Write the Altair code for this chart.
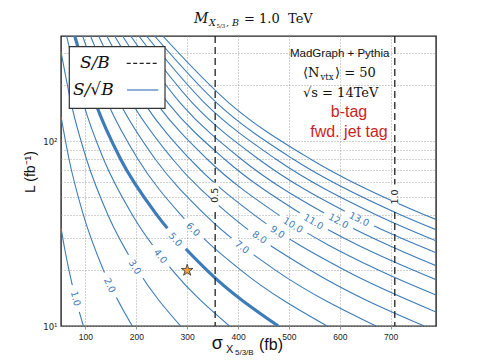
import altair as alt
import pandas as pd

# ---------------- data ----------------
# S/sqrt(B) contour levels and points: sigma (fb), L (fb^-1)
contour_levels = [1.0, 2.0, 3.0, 4.0, 5.0, 6.0, 7.0, 8.0, 9.0, 10.0, 11.0, 12.0, 13.0, 14.0, 15.0, 16.0]
contour_sigma = [
    [96, 81, 67.7, 59.4, 52],
    [192, 135.5, 95.8, 67.7, 52],
    [287, 203, 144, 102, 72, 52],
    [383, 271, 192, 135.5, 96, 63],
    [479, 339, 240, 169, 120, 79],
    [575, 406, 287, 203, 144, 94.5],
    [671, 474, 335, 237, 168, 110],
    [766, 542, 383, 271, 192, 126],
    [789, 610, 431, 305, 216, 142],
    [789, 677, 479, 339, 240, 157.5],
    [789, 745, 527, 373, 263, 173],
    [789, 700, 575, 406, 287, 189],
    [789, 700, 623, 440, 311, 205],
    [789, 671, 474, 335, 220],
    [789, 719, 508, 359, 236],
    [789, 766, 542, 383, 252],
]
contour_lumi = [
    [10, 14, 20, 26, 33.9],
    [10, 20, 40, 80, 136],
    [10, 20, 40, 80, 160, 305],
    [10, 20, 40, 80, 160, 370],
    [10, 20, 40, 80, 160, 370],
    [10, 20, 40, 80, 160, 370],
    [10, 20, 40, 80, 160, 370],
    [10, 20, 40, 80, 160, 370],
    [11.9, 20, 40, 80, 160, 370],
    [14.7, 20, 40, 80, 160, 370],
    [17.8, 20, 40, 80, 160, 370],
    [21.2, 27, 40, 80, 160, 370],
    [24.9, 31.6, 40, 80, 160, 370],
    [28.9, 40, 80, 160, 370],
    [33.2, 40, 80, 160, 370],
    [37.7, 40, 80, 160, 370],
]
highlight_level = 5.0

# inline contour labels
label_text = ["1.0", "2.0", "3.0", "4.0", "5.0", "6.0", "7.0", "8.0", "9.0", "10.0", "11.0", "12.0", "13.0"]
label_sigma = [80.4, 147.7, 196.8, 247.2, 276.6, 311.4, 407.6, 442.1, 477.4, 507.7, 548.1, 597.2, 637.8]
label_lumi = [14.06, 16.6, 20.8, 23.8, 29.3, 33.2, 26.7, 30.1, 32.2, 35.0, 36.5, 36.9, 37.7]
label_rotation = [75.7, 64.9, 58.0, 51.9, 48.7, 45.4, 37.7, 35.5, 33.5, 31.8, 29.9, 27.8, 26.3]

# S/B dashed lines
sb_text = ["0.5", "1.0"]
sb_sigma = [355, 708]
sb_label_lumi = [50.9, 49.8]

# benchmark point
star_sigma = [300]
star_lumi = [20]

x_ticks = [100, 200, 300, 400, 500, 600, 700]
y_ticks = [10, 20, 30, 40, 50, 60, 70, 80, 90, 100, 200, 300]

# ---------------- styling ----------------
BLUE = "#3d7cb9"
RECT = "M-1,-0.28L1,-0.28L1,0.28L-1,0.28Z"
STAR = ("M0,-1L0.223,-0.307L0.951,-0.309L0.361,0.117L0.588,0.809L0,0.38"
        "L-0.588,0.809L-0.361,0.117L-0.951,-0.309L-0.223,-0.307Z")
SERIF = "DejaVu Serif"
SANS = "Liberation Sans"

rows = []
for lev, ss, ls in zip(contour_levels, contour_sigma, contour_lumi):
    for s, l in zip(ss, ls):
        rows.append({"level": lev, "sigma": s, "L": l})
df_c = pd.DataFrame(rows)

df_lab = pd.DataFrame({"text": label_text, "sigma": label_sigma, "L": label_lumi,
                       "angle": label_rotation})
df_lab["msize"] = [(12 + 5.2 * len(t)) ** 2 for t in label_text]

df_sb = pd.DataFrame({"text": sb_text, "sigma": sb_sigma, "L": sb_label_lumi})
df_star = pd.DataFrame({"sigma": star_sigma, "L": star_lumi})

xs = alt.Scale(domain=[52, 789], nice=False, zero=False)
ys = alt.Scale(type="log", domain=[10, 370], nice=False)

x_axis = alt.Axis(values=x_ticks, title=None, grid=True, gridDash=[1, 2], gridColor="#9a9a9a",
                  gridWidth=0.9, domain=False, ticks=True, tickSize=3, tickColor="#999",
                  labelFont=SANS, labelFontSize=8.5, labelColor="#222", labelPadding=3)
y_axis = alt.Axis(values=y_ticks, title=None, grid=True, gridDash=[1, 2], gridColor="#9a9a9a",
                  gridWidth=0.9, domain=False, ticks=False,
                  labelExpr="datum.value == 10 ? '10\u00b9' : (datum.value == 100 ? '10\u00b2' : '')",
                  labelFont="DejaVu Sans", labelFontSize=8.5, labelColor="#222", labelPadding=4)

X = alt.X("sigma:Q", scale=xs, axis=x_axis)
Y = alt.Y("L:Q", scale=ys, axis=y_axis)

contours = alt.Chart(df_c).mark_line(clip=True, interpolate="monotone", color=BLUE).encode(
    x=X, y=Y, detail="level:N",
    strokeWidth=alt.condition(f"datum.level == {highlight_level}", alt.value(3.2), alt.value(1.1)),
)

masks = alt.Chart(df_lab).mark_point(shape=RECT, filled=True, color="white", opacity=1,
                                     strokeWidth=0, clip=True).encode(
    x=X, y=Y, angle=alt.Angle("angle:Q", scale=None), size=alt.Size("msize:Q", scale=None))

labels = alt.Chart(df_lab).mark_text(font="DejaVu Sans", fontSize=9.5, color=BLUE).encode(
    x=X, y=Y, text="text:N", angle=alt.Angle("angle:Q", scale=None))

sb_lines = alt.Chart(df_sb).mark_rule(strokeDash=[7, 4], color="#222", strokeWidth=1.3).encode(
    x=alt.X("sigma:Q", scale=xs))
sb_masks = alt.Chart(df_sb).mark_point(shape=RECT, filled=True, color="white", opacity=1,
                                       strokeWidth=0, size=640, angle=90).encode(x=X, y=Y)
sb_labels = alt.Chart(df_sb).mark_text(font="DejaVu Sans", fontSize=9.5, color="#222",
                                       angle=270).encode(x=X, y=Y, text="text:N")

star = alt.Chart(df_star).mark_point(shape=STAR, filled=True, fill="#f5a03e", stroke="#333",
                                     strokeWidth=0.8, opacity=1, size=150).encode(x=X, y=Y)

one = pd.DataFrame({"a": [0]})

legend_box = alt.Chart(one).mark_rect(fill="white", stroke="#333", strokeWidth=1.2).encode(
    x=alt.value(8.3), x2=alt.value(104), y=alt.value(10.7), y2=alt.value(72.3))
legend_dash = alt.Chart(one).mark_rule(strokeDash=[4, 2.5], color="#222", strokeWidth=1.2).encode(
    x=alt.value(65.7), x2=alt.value(97.3), y=alt.value(27.3))
legend_solid = alt.Chart(one).mark_rule(color=BLUE, strokeWidth=1.2).encode(
    x=alt.value(66), x2=alt.value(97.3), y=alt.value(54))


def txt(t, x, y, size, font=SERIF, style="normal", color="#111", align="left",
        baseline="alphabetic", angle=0, weight="normal"):
    return alt.Chart(pd.DataFrame({"t": [t]})).mark_text(
        font=font, fontSize=size, fontStyle=style, color=color, align=align,
        baseline=baseline, angle=angle, fontWeight=weight).encode(
        x=alt.value(x), y=alt.value(y), text="t:N")


legend_txt = [
    txt("S/B", 19, 32, 17, style="italic"),
    txt("S/\u221aB", 12, 59, 17, style="italic"),
]

notes = [
    txt("MadGraph + Pythia", 278.7, 18, 11.5, font=SANS, align="center", baseline="middle"),
    txt("\u27e8N", 242, 40.7, 13),
    txt("vtx", 259.5, 44, 8.5),
    txt("\u27e9 = 50", 274, 40.7, 13),
    txt("\u221as = 14TeV", 242, 61.3, 13),
    txt("b-tag", 288, 75.7, 16, font=SANS, color="#cc1f24", align="center", baseline="middle"),
    txt("fwd. jet tag", 288, 95.7, 16, font=SANS, color="#cc1f24", align="center",
        baseline="middle"),
]

title = [
    txt("M", 133, -13.5, 14, style="italic"),
    txt("X", 148, -10, 9.5, style="italic"),
    txt("5/3", 155.5, -8.5, 5.5),
    txt(", B", 165, -10, 9.5, style="italic"),
    txt("= 1.0\u00a0\u00a0TeV", 183, -13.5, 13),
]

axis_titles = [
    txt("L (fb\u207b\u00b9)", -30, 136, 14, font=SANS, align="center", baseline="middle",
        angle=270),
    txt("\u03c3", 150.7, 313, 18, font=SANS),
    txt("X", 165, 317, 11, font=SANS),
    txt("5/3/B", 174, 318.5, 8, font=SANS),
    txt("(fb)", 198, 314, 16, font=SANS),
]

chart = alt.layer(
    contours, masks, labels, sb_lines, sb_masks, sb_labels, star,
    legend_box, legend_dash, legend_solid, *legend_txt, *notes, *title, *axis_titles,
).properties(
    width=375, height=290,
    padding={"left": 53, "top": 28, "right": 41, "bottom": 29},
    autosize=alt.AutoSizeParams(type="none"),
    background="white",
).configure_view(stroke="#222", strokeWidth=1.4)

chart.save("out.html", embed_options={"renderer": "svg", "actions": False})
